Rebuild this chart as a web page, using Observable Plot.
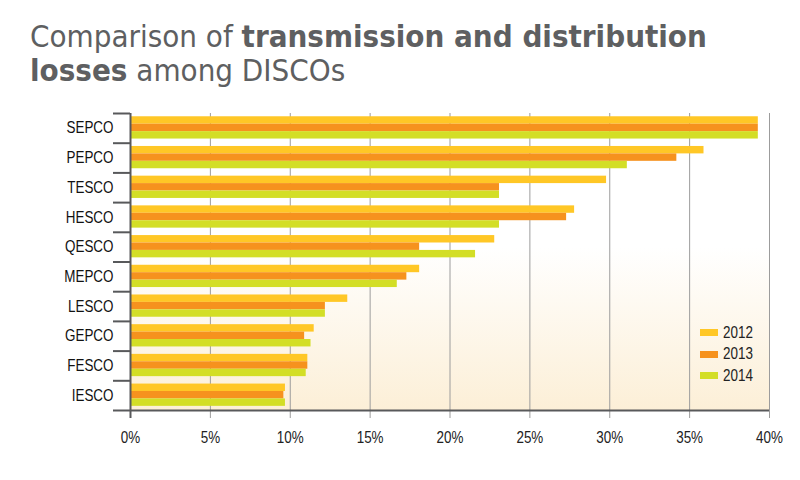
<!DOCTYPE html>
<html>
<head>
<meta charset="utf-8">
<script src="https://cdn.jsdelivr.net/npm/d3@7"></script>
<script src="https://cdn.jsdelivr.net/npm/@observablehq/plot@0.6"></script>
<style>
  html, body { margin: 0; padding: 0; background: #fff; }
  body { width: 800px; height: 480px; overflow: hidden; position: relative;
         font-family: "Liberation Sans", Arial, sans-serif; }
  #title { position: absolute; left: 30px; top: 19px; margin: 0;
           font-family: "DejaVu Sans Condensed", "DejaVu Sans", sans-serif;
           font-weight: normal; font-size: 31px; line-height: 34px; color: #5e5f61; white-space: nowrap; }
  #title b { font-weight: bold; }
  #chart { position: absolute; left: 0; top: 100px; }
  #legend { position: absolute; left: 700px; top: 322px; }
  #legend .lg-swatch { height: 21.5px; padding: 0; margin: 0; align-items: center; }
  #legend .lg-swatch svg { margin-right: 5px; }
  #legend .lg-swatch .lbl { display: inline-block; transform: scaleX(0.84); transform-origin: left center; }
</style>
</head>
<body>
<h1 id="title">Comparison of <b>transmission and distribution<br>losses</b> among DISCOs</h1>
<div id="chart"></div>
<div id="legend"></div>
<script>
// ---- data ----
const discos = ["SEPCO", "PEPCO", "TESCO", "HESCO", "QESCO", "MEPCO", "LESCO", "GEPCO", "FESCO", "IESCO"];
const years = ["2012", "2013", "2014"];
const loss2012 = [39.3, 35.9, 29.8, 27.8, 22.8, 18.1, 13.6, 11.5, 11.1, 9.7];
const loss2013 = [39.3, 34.2, 23.1, 27.3, 18.1, 17.3, 12.2, 10.9, 11.1, 9.6];
const loss2014 = [39.3, 31.1, 23.1, 23.1, 21.6, 16.7, 12.2, 11.3, 11.0, 9.7];
const xTicks = [0, 5, 10, 15, 20, 25, 30, 35, 40];
const yearColors = ["#FFC726", "#F6921E", "#D3DE26"];

// ---- table built from the arrays ----
const series = [loss2012, loss2013, loss2014];
const rows = discos.flatMap((disco, i) =>
  years.map((year, j) => ({disco, year, value: series[j][i], i, j})));

// layout within each DISCO band (fractions of the band)
const bandGap = 0.11, barShare = 0.25;
const axisGrey = "#58595b";
const gridGrey = "#9c9c9c";
const narrow = 0.84; // horizontal squeeze to imitate a narrow sans

const chart = Plot.plot({
  width: 800,
  height: 380,
  marginTop: 13,
  marginBottom: 70,
  marginLeft: 130,
  marginRight: 31,
  style: {fontFamily: '"Liberation Sans", Arial, sans-serif', fontSize: "15px", color: "#222", background: "transparent"},
  x: {domain: [0, 40], label: null},
  y: {domain: [0, discos.length], reverse: true, label: null},
  color: {domain: years, range: yearColors},
  marks: [
    Plot.frame({fill: "url(#plotBg)", stroke: "none"}),
    Plot.gridX(xTicks.slice(1), {stroke: gridGrey, strokeOpacity: 1, strokeWidth: 1}),
    Plot.rect(rows, {
      x1: 0,
      x2: "value",
      y1: d => d.i + bandGap + d.j * barShare,
      y2: d => d.i + bandGap + (d.j + 1) * barShare,
      fill: "year"
    }),
    Plot.axisX(xTicks, {tickFormat: d => d + "%", tickSize: 8, tickPadding: 13,
      stroke: gridGrey, strokeWidth: 1, fill: "#222", fontSize: 16, label: null}),
    Plot.axisX([0], {tickSize: 8, tickFormat: () => "", stroke: axisGrey, strokeWidth: 2, label: null}),
    Plot.ruleX([0], {stroke: axisGrey, strokeWidth: 2}),
    Plot.ruleY([discos.length], {stroke: axisGrey, strokeWidth: 2}),
    Plot.axisY(d3.range(discos.length + 1), {anchor: "left", tickSize: 17, tickFormat: () => "",
      stroke: axisGrey, strokeWidth: 2, label: null}),
    Plot.axisY(discos.map((d, i) => i + 0.5), {anchor: "left", tickSize: 0, tickPadding: 17,
      tickFormat: v => discos[Math.floor(v)], fill: "#111", fontSize: 16, label: null})
  ]
});

// narrow the axis lettering (squeeze around each label's anchor point)
d3.select(chart).selectAll("text").each(function () {
  const t = this.getAttribute("transform") || "";
  this.setAttribute("transform", `${t} scale(${narrow},1)`.trim());
});

// background gradient for the plot frame
const defs = d3.select(chart).insert("defs", ":first-child");
const grad = defs.append("linearGradient").attr("id", "plotBg")
  .attr("x1", 0).attr("y1", 0).attr("x2", 0).attr("y2", 1);
grad.append("stop").attr("offset", "45%").attr("stop-color", "#ffffff");
grad.append("stop").attr("offset", "100%").attr("stop-color", "#FCEFD7");

document.getElementById("chart").appendChild(chart);

const legend = Plot.legend({
  color: {domain: years, range: yearColors},
  columns: 1,
  swatchWidth: 18,
  swatchHeight: 7,
  className: "lg",
  style: {fontFamily: '"Liberation Sans", Arial, sans-serif', fontSize: "16px", color: "#222", background: "transparent"}
});
document.getElementById("legend").appendChild(legend);
// wrap legend labels so they can be squeezed like the axis text
d3.select(legend).selectAll(".lg-swatch").each(function () {
  const label = Array.from(this.childNodes).find(n => n.nodeType === 3 || (n.tagName && n.tagName.toLowerCase() !== "svg"));
  if (label) {
    const span = document.createElement("span");
    span.className = "lbl";
    span.textContent = label.textContent;
    this.replaceChild(span, label);
  }
});
</script>
</body>
</html>
